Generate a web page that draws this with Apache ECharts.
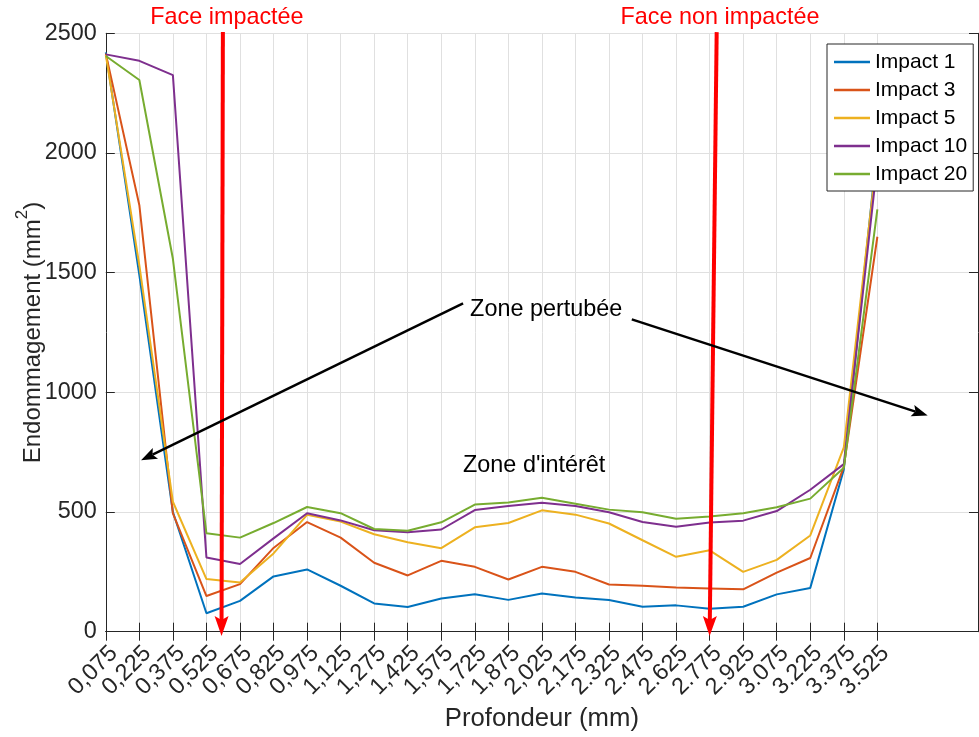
<!DOCTYPE html>
<html>
<head>
<meta charset="utf-8">
<script src="https://cdn.jsdelivr.net/npm/echarts@6/dist/echarts.min.js"></script>
<style>
  html, body { margin: 0; padding: 0; background: #fff; }
  #chart { width: 979px; height: 737px; }
</style>
</head>
<body>
<div id="chart"></div>
<script>
// depth categories (mm), written as on the original axis
const depths = ['0,075', '0,225', '0,375', '0,525', '0,675', '0,825', '0,975', '1,125',
  '1,275', '1,425', '1,575', '1,725', '1,875', '2,025', '2,175', '2.325', '2.475',
  '2.625', '2.775', '2.925', '3.075', '3.225', '3.375', '3.525'];
// empty room on the right of the axis
const padCats = ['_a', '_b', '_c'];

const impact1 = [2420, 1490, 500, 77, 129, 231, 260, 192, 118, 103, 139, 156, 133, 160, 143, 132, 104, 110, 96, 104, 156, 183, 678, 2030];
const impact3 = [2415, 1782, 494, 149, 199, 350, 458, 393, 288, 235, 296, 271, 218, 271, 250, 197, 192, 185, 181, 177, 247, 308, 690, 1650];
const impact5 = [2410, 1530, 543, 220, 206, 327, 488, 460, 407, 374, 349, 436, 454, 507, 489, 452, 382, 313, 340, 250, 300, 402, 770, 2000];
const impact10 = [2412, 2385, 2325, 310, 283, 390, 495, 465, 424, 415, 427, 508, 525, 539, 525, 499, 458, 438, 456, 464, 504, 593, 700, 1960];
const impact20 = [2405, 2305, 1558, 411, 393, 454, 521, 495, 429, 422, 457, 531, 540, 560, 535, 510, 499, 472, 481, 495, 520, 556, 685, 1764];

const seriesNames = ['Impact 1', 'Impact 3', 'Impact 5', 'Impact 10', 'Impact 20'];
const seriesData = [impact1, impact3, impact5, impact10, impact20];
const colors = ['#0072BD', '#D95319', '#EDB120', '#7E2F8E', '#77AC30'];

// annotations, in (category index, value) units
const faceArrows = [
  { label: 'Face impactée', top: [3.49, 2505], bottom: [3.45, -18], text: [3.61, 2566] },
  { label: 'Face non impactée', top: [18.21, 2505], bottom: [18.0, -18], text: [18.31, 2566] },
];
const zoneArrows = [
  { from: [10.65, 1372], to: [1.05, 716] },
  { from: [15.68, 1305], to: [24.5, 903] },
];
const zoneTexts = [
  { label: 'Zone pertubée', at: [10.86, 1347] },
  { label: "Zone d'intérêt", at: [10.65, 693] },
];

const font = '"Liberation Sans", Arial, Helvetica, sans-serif';
const axisColor = '#262626';
const gridColor = '#e0e0e0';
const nReal = depths.length;
const onReal = (i) => i < nReal;

const chart = echarts.init(document.getElementById('chart'));

const option = {
  animation: false,
  textStyle: { fontFamily: font },
  grid: { left: 105.8, right: 1, top: 33.3, bottom: 105.3, outerBoundsMode: 'none' },
  legend: {
    orient: 'vertical',
    left: 827,
    top: 44,
    padding: [7, 6, 6, 7],
    itemWidth: 36,
    itemHeight: 2.5,
    itemGap: 6,
    icon: 'rect',
    backgroundColor: '#fff',
    borderColor: axisColor,
    borderWidth: 1,
    borderRadius: 0,
    textStyle: { fontSize: 21, color: '#000', lineHeight: 22, fontFamily: font },
    data: seriesNames,
  },
  xAxis: [
    {
      type: 'category',
      data: depths.concat(padCats),
      boundaryGap: false,
      position: 'bottom',
      axisLine: { lineStyle: { color: axisColor, width: 1 } },
      axisTick: { inside: true, length: 9, interval: onReal, lineStyle: { color: axisColor } },
      axisLabel: {
        rotate: 45,
        interval: onReal,
        fontSize: 23.4,
        color: axisColor,
        margin: 10,
        verticalAlign: 'top',
        fontFamily: font,
        formatter: (v, i) => (i < nReal ? v : ''),
      },
      splitLine: { show: true, interval: onReal, lineStyle: { color: gridColor } },
      name: 'Profondeur (mm)',
      nameLocation: 'middle',
      nameGap: 74,
      nameMoveOverlap: false,
      nameTextStyle: { fontSize: 25.7, color: axisColor, fontFamily: font },
    },
    {
      type: 'category',
      data: depths.concat(padCats),
      boundaryGap: false,
      position: 'top',
      axisLine: { lineStyle: { color: axisColor, width: 1 } },
      axisTick: { inside: true, length: 9, interval: onReal, lineStyle: { color: axisColor } },
      axisLabel: { show: false },
      splitLine: { show: false },
    },
  ],
  yAxis: [
    {
      type: 'value',
      min: 0,
      max: 2500,
      interval: 500,
      axisLine: { show: true, lineStyle: { color: axisColor, width: 1 } },
      axisTick: { show: true, inside: true, length: 9, lineStyle: { color: axisColor } },
      axisLabel: { fontSize: 23.4, color: axisColor, margin: 9, fontFamily: font, formatter: (v) => String(v) },
      splitLine: { show: true, lineStyle: { color: gridColor } },
      name: '{b|Endommagement (mm}{sup|2}{b|)}',
      nameLocation: 'middle',
      nameRotate: 90,
      nameGap: 60,
      nameMoveOverlap: false,
      nameTextStyle: {
        color: axisColor,
        rich: {
          b: { fontSize: 24, color: axisColor, fontFamily: font, lineHeight: 32, verticalAlign: 'bottom' },
          sup: { fontSize: 17, color: axisColor, fontFamily: font, lineHeight: 19, verticalAlign: 'top' },
        },
      },
    },
    {
      type: 'value',
      min: 0,
      max: 2500,
      interval: 500,
      position: 'right',
      axisLine: { show: true, lineStyle: { color: axisColor, width: 1 } },
      axisTick: { show: true, inside: true, length: 9, lineStyle: { color: axisColor } },
      axisLabel: { show: false },
      splitLine: { show: false },
    },
  ],
  series: seriesNames.map((name, k) => ({
    name: name,
    type: 'line',
    xAxisIndex: 0,
    yAxisIndex: 0,
    data: seriesData[k],
    symbol: 'none',
    color: colors[k],
    lineStyle: { width: 2, color: colors[k] },
  })),
};

chart.setOption(option);

// pixel position of an annotation point, through the chart's own axes
const x0 = chart.convertToPixel({ xAxisIndex: 0 }, 0);
const x1 = chart.convertToPixel({ xAxisIndex: 0 }, 1);
const toPx = (p) => [x0 + p[0] * (x1 - x0), chart.convertToPixel({ yAxisIndex: 0 }, p[1])];

function arrow(a, b, color, width, headLen, headW) {
  const dx = b[0] - a[0], dy = b[1] - a[1];
  const len = Math.sqrt(dx * dx + dy * dy);
  const ux = dx / len, uy = dy / len;
  const nx = -uy, ny = ux;
  const base = [b[0] - ux * headLen, b[1] - uy * headLen];
  const notch = [b[0] - ux * headLen * 0.8, b[1] - uy * headLen * 0.8];
  return [
    {
      type: 'line', z: 100,
      shape: { x1: a[0], y1: a[1], x2: notch[0], y2: notch[1] },
      style: { stroke: color, lineWidth: width },
    },
    {
      type: 'polygon', z: 101,
      shape: {
        points: [
          b,
          [base[0] + nx * headW / 2, base[1] + ny * headW / 2],
          notch,
          [base[0] - nx * headW / 2, base[1] - ny * headW / 2],
        ],
      },
      style: { fill: color },
    },
  ];
}

const elements = [];
faceArrows.forEach((f) => {
  elements.push(...arrow(toPx(f.top), toPx(f.bottom), '#ff0000', 4, 20, 14));
  const t = toPx(f.text);
  elements.push({
    type: 'text', z: 102, x: t[0], y: t[1],
    style: { text: f.label, fontSize: 23.4, fontFamily: font, fill: '#ff0000', align: 'center', verticalAlign: 'middle' },
  });
});
zoneArrows.forEach((z) => {
  elements.push(...arrow(toPx(z.from), toPx(z.to), '#000', 2.5, 16, 12));
});
zoneTexts.forEach((z) => {
  const t = toPx(z.at);
  elements.push({
    type: 'text', z: 102, x: t[0], y: t[1],
    style: { text: z.label, fontSize: 23.4, fontFamily: font, fill: '#000', align: 'left', verticalAlign: 'middle' },
  });
});

chart.setOption({ graphic: elements });
</script>
</body>
</html>
